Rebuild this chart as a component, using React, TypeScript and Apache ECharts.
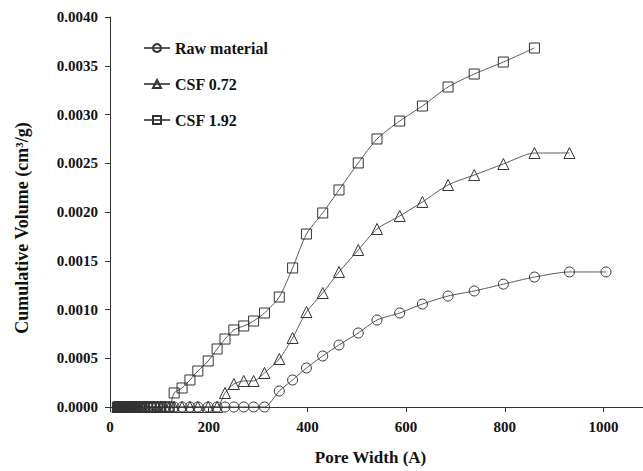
import React, { useEffect, useRef } from "react";
import * as echarts from "echarts";

// Pore width grid (Å)
const poreWidth = [
  15, 16.3, 17.6, 19, 20.5, 22, 24, 26, 28, 30, 33, 35, 38, 41, 44, 48, 52, 56, 60, 65,
  70, 76, 82, 89, 96, 103, 111, 120, 130, 146, 162, 178, 199, 217, 233, 251, 271, 291, 313,
  343, 370, 398, 431, 464, 503, 541, 587, 633, 685, 738, 797, 860, 931, 1005,
];

// Cumulative volume (cm³/g)
const rawMaterial = [
  0, 0, 0, 0, 0, 0, 0, 0, 0, 0, 0, 0, 0, 0, 0, 0, 0, 0, 0, 0,
  0, 0, 0, 0, 0, 0, 0, 0, 0, 0, 0, 0, 0, 0, 0, 0, 0, 0, 0,
  0.000164, 0.000277, 0.0004, 0.000523, 0.000636, 0.000759, 0.000892, 0.000964, 0.001056,
  0.001138, 0.00119, 0.00126, 0.001333, 0.001385, 0.001385,
];

const csf072 = [
  0, 0, 0, 0, 0, 0, 0, 0, 0, 0, 0, 0, 0, 0, 0, 0, 0, 0, 0, 0,
  0, 0, 0, 0, 0, 0, 0, 0, 0, 0, 0, 0, 0, 0,
  0.000144, 0.000236, 0.000267, 0.000267, 0.000349, 0.000492, 0.000708, 0.000974, 0.001169,
  0.001385, 0.00161, 0.001826, 0.001959, 0.002103, 0.002277, 0.002379, 0.002492, 0.002605,
  0.002605, null,
];

const csf192 = [
  0, 0, 0, 0, 0, 0, 0, 0, 0, 0, 0, 0, 0, 0, 0, 0, 0, 0, 0, 0,
  0, 0, 0, 0, 0, 0, 0, 0,
  0.000144, 0.000195, 0.000277, 0.000369, 0.000472, 0.000595, 0.000697, 0.00079, 0.000831,
  0.000882, 0.000964, 0.001128, 0.001426, 0.001774, 0.00199, 0.002226, 0.002503, 0.002749,
  0.002933, 0.003087, 0.003282, 0.003415, 0.003538, 0.003682, null, null,
];

const seriesNames = ["Raw material", "CSF 0.72", "CSF 1.92"];
const xTickValues = [0, 200, 400, 600, 800, 1000];
const xTitle = "Pore Width (A)";
const yTitle = "Cumulative Volume (cm³/g)";

const LINE = "#5a5a5a";
const MARK = "#333333";
const TICK_FONT = "'Liberation Serif', 'DejaVu Serif', serif";
const TITLE_FONT = "'Liberation Serif', 'DejaVu Serif', serif";

function pairs(values: (number | null)[]) {
  return poreWidth
    .map((x, i) => [x, values[i]])
    .filter((p) => p[1] !== null);
}

function makeSeries(name: string, values: (number | null)[], symbol: string, size: number) {
  return {
    name,
    type: "line",
    data: pairs(values),
    symbol,
    symbolSize: size,
    smooth: 0.25,
    lineStyle: { color: LINE, width: 1 },
    itemStyle: { color: "rgba(255,255,255,0)", borderColor: MARK, borderWidth: 1 },
    emphasis: { disabled: true },
  };
}

export default function App() {
  const ref = useRef<HTMLDivElement>(null);
  useEffect(() => {
    if (!ref.current) return;
    const chart = echarts.init(ref.current, null, { renderer: "svg" });
    chart.setOption({
      animation: false,
      backgroundColor: "#ffffff",
      grid: { left: 110, right: 0, top: 17, bottom: 64, containLabel: false },
      legend: {
        orient: "vertical",
        left: 138,
        top: 35,
        itemWidth: 26,
        itemHeight: 10,
        itemGap: 20,
        data: seriesNames,
        textStyle: { fontFamily: TITLE_FONT, fontWeight: "bold", fontSize: 16, color: "#111" },
      },
      graphic: [
        {
          type: "text",
          x: 22,
          y: 228,
          rotation: Math.PI / 2,
          style: {
            text: yTitle,
            fontFamily: TITLE_FONT,
            fontWeight: "bold",
            fontSize: 18,
            fill: "#111",
            align: "center",
            verticalAlign: "middle",
          },
        },
      ],
      xAxis: {
        type: "value",
        min: 0,
        max: 1080,
        interval: 200,
        name: xTitle,
        nameLocation: "middle",
        nameGap: 42,
        nameTextStyle: {
          fontFamily: TITLE_FONT,
          fontWeight: "bold",
          fontSize: 17,
          color: "#111",
          padding: [0, 12, 0, 0],
        },
        axisLine: { lineStyle: { color: "#333", width: 1 } },
        axisTick: { show: true, length: 5, inside: false, customValues: xTickValues, lineStyle: { color: "#333" } },
        axisLabel: {
          customValues: xTickValues,
          formatter: (v: number) => String(v),
          margin: 12,
          fontFamily: TICK_FONT,
          fontWeight: "bold",
          fontSize: 15,
          color: "#111",
        },
        splitLine: { show: false },
      },
      yAxis: {
        type: "value",
        min: 0,
        max: 0.004,
        interval: 0.0005,
        axisLine: { show: true, lineStyle: { color: "#333", width: 1 } },
        axisTick: { show: true, length: 5, inside: false, lineStyle: { color: "#333" } },
        axisLabel: {
          margin: 12,
          formatter: (v: number) => v.toFixed(4),
          fontFamily: TICK_FONT,
          fontWeight: "bold",
          fontSize: 15,
          color: "#111",
        },
        splitLine: { show: false },
      },
      series: [
        makeSeries(seriesNames[0], rawMaterial, "circle", 10),
        makeSeries(seriesNames[1], csf072, "triangle", 11),
        makeSeries(seriesNames[2], csf192, "rect", 10),
      ],
    });
    return () => chart.dispose();
  }, []);
  return (
    <div
      ref={ref}
      style={{ position: "fixed", left: 0, top: 0, width: 643, height: 471, background: "#fff" }}
    />
  );
}
